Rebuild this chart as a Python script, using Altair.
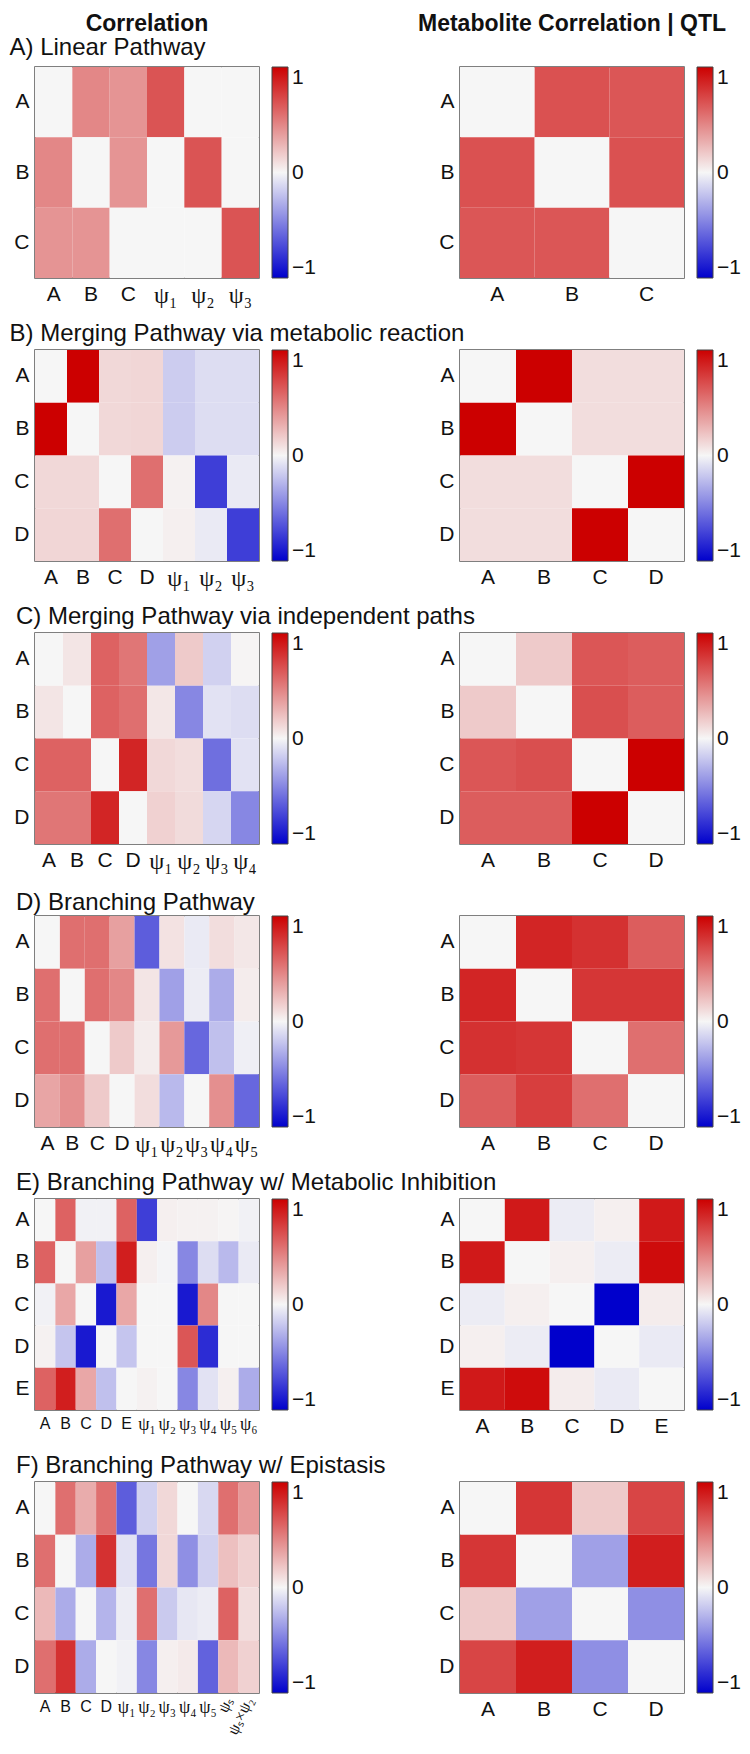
import altair as alt
import pandas as pd

FONT = "Liberation Sans"
SERIF = "Liberation Serif"
TXT = "#111111"

HEADERS = ["Correlation", "Metabolite Correlation | QTL"]
ROW_TITLES = [
    "A) Linear Pathway",
    "B) Merging Pathway via metabolic reaction",
    "C) Merging Pathway via independent paths",
    "D) Branching Pathway",
    "E) Branching Pathway w/ Metabolic Inhibition",
    "F) Branching Pathway w/ Epistasis",
]
TITLE_DX = [-25.5, -25.5, -19, -19, -19, -19]
TITLE_OFFSET = [-12, -14.5, -15, -18, -15, -15]

# ---- A) Linear pathway
ROWS_A = ["A", "B", "C"]
COLS_A_L = ["A", "B", "C", "ψ₁", "ψ₂", "ψ₃"]
VALS_A_L = [
    [0.00, 0.45, 0.40, 0.66, 0.00, 0.00],
    [0.45, 0.00, 0.40, 0.00, 0.66, 0.00],
    [0.40, 0.40, 0.00, 0.00, 0.00, 0.66],
]
VALS_A_R = [
    [0.00, 0.67, 0.65],
    [0.67, 0.00, 0.67],
    [0.65, 0.65, 0.00],
]

# ---- B) Merging via metabolic reaction
ROWS_B = ["A", "B", "C", "D"]
COLS_B_L = ["A", "B", "C", "D", "ψ₁", "ψ₂", "ψ₃"]
VALS_B_L = [
    [0.00, 1.00, 0.12, 0.13, -0.17, -0.10, -0.10],
    [1.00, 0.00, 0.12, 0.13, -0.17, -0.10, -0.10],
    [0.12, 0.12, 0.00, 0.55, 0.02, -0.75, -0.05],
    [0.13, 0.13, 0.55, 0.00, 0.03, -0.05, -0.75],
]
VALS_B_R = [
    [0.00, 1.00, 0.10, 0.10],
    [1.00, 0.00, 0.10, 0.10],
    [0.10, 0.10, 0.00, 1.00],
    [0.10, 0.10, 1.00, 0.00],
]

# ---- C) Merging via independent paths
ROWS_C = ["A", "B", "C", "D"]
COLS_C_L = ["A", "B", "C", "D", "ψ₁", "ψ₂", "ψ₃", "ψ₄"]
VALS_C_L = [
    [0.00, 0.07, 0.60, 0.52, -0.35, 0.18, -0.15, 0.01],
    [0.07, 0.00, 0.60, 0.55, 0.06, -0.45, -0.08, -0.10],
    [0.60, 0.60, 0.00, 0.85, 0.12, 0.10, -0.55, -0.08],
    [0.52, 0.52, 0.85, 0.00, 0.15, 0.11, -0.13, -0.45],
]
VALS_C_R = [
    [0.00, 0.18, 0.65, 0.62],
    [0.18, 0.00, 0.68, 0.62],
    [0.65, 0.68, 0.00, 1.00],
    [0.62, 0.62, 1.00, 0.00],
]

# ---- D) Branching pathway
ROWS_D = ["A", "B", "C", "D"]
COLS_D_L = ["A", "B", "C", "D", "ψ₁", "ψ₂", "ψ₃", "ψ₄", "ψ₅"]
VALS_D_L = [
    [0.00, 0.55, 0.55, 0.35, -0.62, 0.08, -0.05, 0.10, 0.06],
    [0.55, 0.00, 0.55, 0.45, 0.07, -0.35, -0.04, -0.30, 0.04],
    [0.55, 0.55, 0.00, 0.18, 0.04, 0.38, -0.58, -0.22, -0.03],
    [0.33, 0.42, 0.18, 0.00, 0.10, -0.25, 0.00, 0.42, -0.58],
]
VALS_D_R = [
    [0.00, 0.85, 0.80, 0.62],
    [0.85, 0.00, 0.78, 0.78],
    [0.80, 0.78, 0.00, 0.55],
    [0.62, 0.75, 0.55, 0.00],
]

# ---- E) Branching w/ metabolic inhibition
ROWS_E = ["A", "B", "C", "D", "E"]
COLS_E_L = ["A", "B", "C", "D", "E", "ψ₁", "ψ₂", "ψ₃", "ψ₄", "ψ₅", "ψ₆"]
VALS_E_L = [
    [0.00, 0.60, -0.02, -0.02, 0.60, -0.75, 0.03, 0.02, 0.02, 0.01, -0.02],
    [0.60, 0.00, 0.35, -0.22, 0.88, 0.03, -0.01, -0.45, -0.10, -0.25, -0.05],
    [-0.02, 0.32, 0.00, -0.90, 0.32, 0.00, 0.00, -0.90, 0.45, 0.00, 0.00],
    [0.02, -0.20, -0.90, 0.00, -0.20, 0.00, 0.00, 0.65, -0.82, 0.00, 0.00],
    [0.60, 0.88, 0.32, -0.22, 0.00, 0.02, 0.00, -0.45, -0.08, 0.03, -0.30],
]
VALS_E_R = [
    [0.00, 0.90, -0.04, 0.03, 0.90],
    [0.90, 0.00, 0.03, -0.04, 0.95],
    [-0.04, 0.03, 0.00, -1.00, 0.04],
    [0.03, -0.04, -1.00, 0.00, -0.05],
    [0.90, 0.95, 0.04, -0.05, 0.00],
]

# ---- F) Branching w/ epistasis
ROWS_F = ["A", "B", "C", "D"]
COLS_F_L = ["A", "B", "C", "D", "ψ₁", "ψ₂", "ψ₃", "ψ₄", "ψ₅", "ψₛ", "ψₛ×ψ₂"]
ROTATED_F = ["ψₛ", "ψₛ×ψ₂"]
VALS_F_L = [
    [0.00, 0.55, 0.30, 0.55, -0.62, -0.15, 0.12, 0.00, -0.12, 0.55, 0.38],
    [0.55, 0.00, -0.30, 0.80, -0.08, -0.52, 0.12, -0.42, -0.15, 0.22, 0.15],
    [0.25, -0.30, 0.00, -0.27, -0.04, 0.55, -0.18, -0.06, -0.04, 0.60, 0.10],
    [0.55, 0.80, -0.30, 0.00, -0.02, -0.45, 0.03, 0.05, -0.60, 0.25, 0.15],
]
VALS_F_R = [
    [0.00, 0.78, 0.18, 0.72],
    [0.78, 0.00, -0.35, 0.88],
    [0.18, -0.35, 0.00, -0.42],
    [0.72, 0.88, -0.42, 0.00],
]

PANELS = [
    (ROWS_A, COLS_A_L, VALS_A_L, ROWS_A, VALS_A_R, 21, []),
    (ROWS_B, COLS_B_L, VALS_B_L, ROWS_B, VALS_B_R, 21, []),
    (ROWS_C, COLS_C_L, VALS_C_L, ROWS_C, VALS_C_R, 21, []),
    (ROWS_D, COLS_D_L, VALS_D_L, ROWS_D, VALS_D_R, 21, []),
    (ROWS_E, COLS_E_L, VALS_E_L, ROWS_E, VALS_E_R, 16, []),
    (ROWS_F, COLS_F_L, VALS_F_L, ROWS_F, VALS_F_R, 16, ROTATED_F),
]

PW, PH = 224, 211
CMAP = ["#0000cc", "#f6f6f6", "#cc0000"]
PSI_TEST = "indexof(datum.label, 'ψ') >= 0"


def color_enc():
    return alt.Color(
        "v:Q",
        scale=alt.Scale(domain=[-1, 0, 1], range=CMAP, interpolate="rgb"),
        legend=alt.Legend(
            title=None,
            values=[-1, 0, 1],
            orient="right",
            direction="vertical",
            offset=12.5,
            padding=0,
            gradientLength=PH,
            gradientThickness=16,
            gradientStrokeColor="#444444",
            gradientStrokeWidth=1,
            labelFont=FONT,
            labelFontSize=21,
            labelColor=TXT,
            labelAlign="left",
            labelBaseline="middle",
            labelOffset=4,
            labelOverlap=False,
            labelExpr="datum.value < 0 ? '\u22121' : (datum.value > 0 ? '\u20071' : '\u20070')",
        ),
    )


def panel(rows, cols, vals, lab_size, title=None, dx=0, offset=15, rotated=()):
    df = pd.DataFrame(
        [{"r": r, "c": c, "v": vals[i][j]} for i, r in enumerate(rows) for j, c in enumerate(cols)]
    )
    if rotated:
        lst = ",".join("'" + c + "'" for c in rotated)
        lexpr = "indexof([" + lst + "], datum.label) >= 0 ? '' : datum.label"
    else:
        lexpr = "datum.label"
    psi_size = round(lab_size * 1.15)
    xaxis = alt.Axis(
        orient="bottom",
        labelAngle=0,
        labelFontSize={"condition": {"test": PSI_TEST, "value": psi_size}, "value": lab_size},
        labelFont={"condition": {"test": PSI_TEST, "value": SERIF}, "value": FONT},
        labelColor=TXT,
        labelPadding=5,
        labelOverlap=False,
        ticks=False,
        domain=False,
        labelExpr=lexpr,
    )
    xenc = alt.X("c:N", sort=cols, title=None, axis=xaxis)
    yenc = alt.Y(
        "r:N",
        sort=rows,
        title=None,
        axis=alt.Axis(
            labelFont=FONT,
            labelFontSize=21,
            labelColor=TXT,
            labelPadding=6,
            ticks=False,
            domain=False,
        ),
    )
    ch = alt.Chart(df).mark_rect().encode(x=xenc, y=yenc, color=color_enc())
    if rotated:
        rdf = pd.DataFrame({"c": list(rotated)})
        txt = (
            alt.Chart(rdf)
            .mark_text(angle=295, align="right", baseline="middle", fontSize=lab_size, font=SERIF, color=TXT)
            .encode(x=xenc, y=alt.value(PH + 5), text="c:N")
        )
        ch = alt.layer(ch, txt)
    props = dict(width=PW, height=PH)
    if title:
        props["title"] = alt.TitleParams(
            text=title,
            anchor="start",
            frame="group",
            dx=dx,
            offset=offset,
            baseline="alphabetic",
            font=FONT,
            fontSize=24,
            fontWeight="normal",
            color=TXT,
        )
    return ch.properties(**props)


def header(text):
    return (
        alt.Chart(pd.DataFrame({"t": [text]}))
        .mark_text(font=FONT, fontSize=23, fontWeight="bold", baseline="alphabetic", color=TXT)
        .encode(text="t:N", y=alt.value(20))
        .properties(width=PW, height=20, view=alt.ViewBackground(strokeOpacity=0))
    )


cells = []
for k, (rows, cols_l, vals_l, cols_r, vals_r, ls, rot) in enumerate(PANELS):
    cells.append(panel(rows, cols_l, vals_l, ls, ROW_TITLES[k], TITLE_DX[k], TITLE_OFFSET[k], rot))
    cells.append(panel(rows, cols_r, vals_r, 21))

header_row = alt.hconcat(header(HEADERS[0]), header(HEADERS[1]), spacing=201, bounds="flush")

grid = (
    alt.concat(*cells, columns=2, spacing={"row": 72, "column": 201}, bounds="flush")
    .resolve_scale(color="independent")
    .resolve_legend(color="independent")
)

chart = (
    alt.vconcat(header_row, grid, spacing=56, bounds="flush")
    .resolve_scale(color="independent")
    .resolve_legend(color="independent")
    .properties(padding={"top": 3, "left": 0, "right": 0, "bottom": 0})
    .configure_view(stroke="#555555", strokeWidth=1.5)
)

chart.save("out.html", embed_options={"renderer": "svg", "actions": False})
